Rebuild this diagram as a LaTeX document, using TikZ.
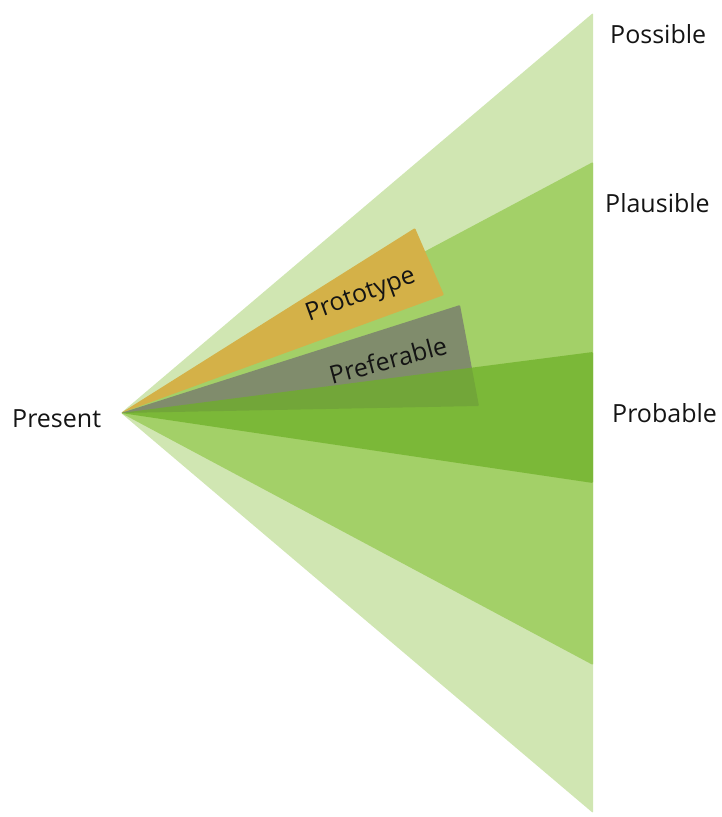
\documentclass[tikz,border=0pt]{standalone}
\usepackage{fontspec}
\setmainfont{Open Sans}
\usepackage{tikz}
\usetikzlibrary{positioning}
\definecolor{possiblegreen}{RGB}{208,230,178}
\definecolor{plausiblegreen}{RGB}{163,208,104}
\definecolor{probablegreen}{RGB}{110,176,40}
\definecolor{prototypegold}{RGB}{212,177,72}
\definecolor{preferablegray}{RGB}{128,140,108}

\begin{document}
\begin{tikzpicture}[
    x=1pt, y=-1pt,
    cone/.style={draw=none, rounded corners=1pt},
    lab/.style={font=\fontsize{25}{30}\selectfont, text=black!92, inner sep=0pt},
]
    \useasboundingbox (0,0) rectangle (721,817);

    % the present
    \coordinate (now) at (121,413);

    % cone of futures, widest first
    \fill[cone, possiblegreen] (now) -- (593,13) -- (593,813) -- cycle;
    \fill[cone, plausiblegreen] (now) -- (593,162) -- (593,665) -- cycle;

    % wedges
    \fill[cone, prototypegold] (now) -- (415,228) -- (444,295) -- cycle;
    \fill[cone, preferablegray] (now) -- (460,305) -- (479,406) -- cycle;

    % probable on top
    \fill[cone, probablegreen, opacity=0.75] (now) -- (593,352) -- (593,483) -- cycle;

    % labels
    \node[lab, anchor=base west] (present) at (12,427) {Present};
    \node[lab, anchor=base west] (possible) at (610,43) {Possible};
    \node[lab, anchor=base west] (plausible) at (605,212) {Plausible};
    \node[lab, anchor=base west] (probable) at (612,422) {Probable};
    \node[lab, rotate=20] (prototype) at (361,296) {Prototype};
    \node[lab, rotate=15] (preferable) at (388,360) {Preferable};
\end{tikzpicture}
\end{document}
